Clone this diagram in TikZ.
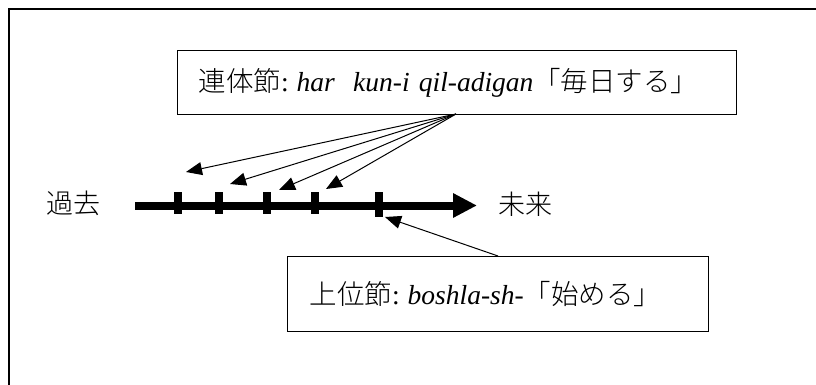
\documentclass[tikz,border=0pt]{standalone}
\usepackage{fontspec}
\setmainfont{Liberation Serif}
\newfontfamily\jp{Noto Sans CJK JP Light}
\usetikzlibrary{arrows.meta}
\begin{document}
\begin{tikzpicture}[x=1pt,y=-1pt,
  labelbox/.style={draw, line width=1.1pt, anchor=north west, inner ysep=0pt,
    align=left, font=\fontsize{27.5}{29}\selectfont},
  tickmark/.style={fill=black, inner sep=0pt, minimum width=8pt},
  pointer/.style={line width=1pt, -{Triangle[length=16pt,width=13pt]}},
  sidelabel/.style={font=\fontsize{27}{29}\selectfont\jp, inner sep=0pt}]
\useasboundingbox (0,0) rectangle (816,385);
% frame
\draw[line width=2pt] (816,9) -- (9,9) -- (9,385);
% boxes
\node[labelbox, inner xsep=21pt, text width=517pt, minimum height=64pt] (top) at (177,50)
  {{\jp 連体節}:\hspace{8pt}\textit{har\ \ kun-i qil-adigan}{\jp 「毎日する」}};
\node[labelbox, inner xsep=22pt, text width=377pt, minimum height=75pt] (bot) at (287,256)
  {{\jp 上位節}:\hspace{8pt}\textit{boshla-sh-}{\jp 「始める」}};
% timeline
\coordinate (tl0) at (135,205.5);
\coordinate (tl1) at (477,205.5);
\draw[line width=8pt, -{Triangle[length=24pt,width=23pt]}] (tl0) -- (tl1);
\node[tickmark, minimum height=22pt] (t1) at (178,203) {};
\node[tickmark, minimum height=22pt] (t2) at (219,203) {};
\node[tickmark, minimum height=22pt] (t3) at (267,203) {};
\node[tickmark, minimum height=22pt] (t4) at (315,203) {};
\node[tickmark, minimum height=25pt] (t5) at (379,204.5) {};
% side labels
\node[sidelabel] (past) at (73,203) {過去};
\node[sidelabel] (future) at (525,204) {未来};
% pointers
\coordinate (o) at (456,114);
\coordinate (a1) at (186,172);
\coordinate (a2) at (230,184);
\coordinate (a3) at (279,190);
\coordinate (a4) at (326,189);
\draw[pointer] (o) -- (a1);
\draw[pointer] (o) -- (a2);
\draw[pointer] (o) -- (a3);
\draw[pointer] (o) -- (a4);
\coordinate (b0) at (498,256);
\coordinate (b1) at (385,217);
\draw[pointer] (b0) -- (b1);
\end{tikzpicture}
\end{document}
